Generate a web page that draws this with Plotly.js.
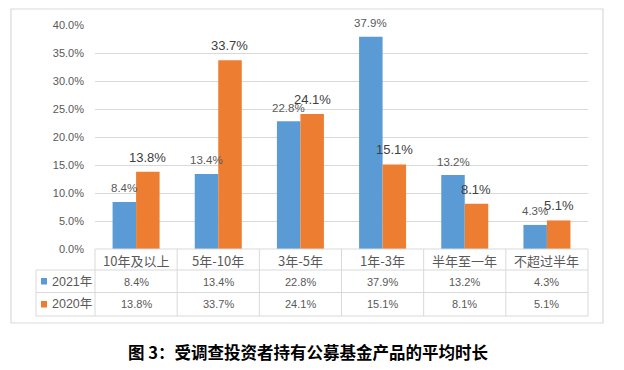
<!DOCTYPE html>
<html>
<head>
<meta charset="utf-8">
<script src="https://cdn.plot.ly/plotly-3.0.1.min.js"></script>
<style>html,body{margin:0;padding:0;background:#fff;}#chart{width:624px;height:370px;}</style>
</head>
<body>
<div id="chart"></div>
<script>
const categories = ['10年及以上','5年-10年','3年-5年','1年-3年','半年至一年','不超过半年'];
const seriesNames = ['2021年','2020年'];
const values2021 = [8.4,13.4,22.8,37.9,13.2,4.3];
const values2020 = [13.8,33.7,24.1,15.1,8.1,5.1];
const yTickVals = [0,5,10,15,20,25,30,35,40];
const yTickText = ['0.0%','5.0%','10.0%','15.0%','20.0%','25.0%','30.0%','35.0%','40.0%'];
const chartTitle = '图 3：受调查投资者持有公募基金产品的平均时长';

const colors = ['#5b9bd5','#ed7d31'];
const W = 624, H = 370;
const L = 95, R = 588, T = 25, B = 249;
const pw = R - L, ph = B - T;
const px = x => (x - L) / pw;
const py = y => (B - y) / ph;
const latin = 'Liberation Sans, Noto Sans CJK SC, sans-serif';
const cjk = 'Noto Sans CJK SC, Liberation Sans, sans-serif';
const gray = '#595959';
const lineCol = '#d9d9d9';

const bargap = 0.428;
const halfBar = (pw / categories.length) * (1 - bargap) / 4;

const traces = [values2021, values2020].map((v, k) => ({
  type: 'bar', x: categories, y: v, name: seriesNames[k],
  marker: {color: colors[k], line: {width: 0}},
  hoverinfo: 'x+y'
}));

const annotations = [];
categories.forEach((c, i) => {
  annotations.push({x: c, y: values2021[i], xref: 'x', yref: 'y', text: values2021[i].toFixed(1) + '%',
    showarrow: false, xshift: -halfBar, yshift: 13.5, yanchor: 'middle', xanchor: 'center',
    font: {family: latin, size: 11.5, color: gray}});
  annotations.push({x: c, y: values2020[i], xref: 'x', yref: 'y', text: values2020[i].toFixed(1) + '%',
    showarrow: false, xshift: halfBar, yshift: 14.5, yanchor: 'middle', xanchor: 'center',
    font: {family: latin, size: 13, color: '#404040'}});
  // table cells
  annotations.push({x: c, y: py(260), xref: 'x', yref: 'paper', text: c, showarrow: false,
    yanchor: 'middle', font: {family: cjk, size: 13, color: gray}});
  annotations.push({x: c, y: py(281.5), xref: 'x', yref: 'paper', text: values2021[i].toFixed(1) + '%', showarrow: false,
    yanchor: 'middle', font: {family: latin, size: 11, color: gray}});
  annotations.push({x: c, y: py(304), xref: 'x', yref: 'paper', text: values2020[i].toFixed(1) + '%', showarrow: false,
    yanchor: 'middle', font: {family: latin, size: 11, color: gray}});
});
// legend text in table
seriesNames.forEach((s, k) => {
  annotations.push({x: px(50), y: py(k === 0 ? 281.5 : 304), xref: 'paper', yref: 'paper', text: s,
    showarrow: false, xanchor: 'left', yanchor: 'middle', font: {family: latin, size: 12.5, color: gray}});
});

const shapes = [];
const lineStyle = {color: lineCol, width: 1};
// outer frame
shapes.push({type: 'rect', xref: 'paper', yref: 'paper', x0: px(11), x1: px(603), y0: py(323), y1: py(9), line: {color: lineCol, width: 1.2}});
// table horizontal lines
shapes.push({type: 'line', xref: 'paper', yref: 'paper', x0: 0, x1: 1, y0: 0, y1: 0, line: lineStyle});
[270, 292.5, 316].forEach(yy => shapes.push({type: 'line', xref: 'paper', yref: 'paper', x0: px(36), x1: 1, y0: py(yy), y1: py(yy), line: lineStyle}));
// table vertical lines
for (let k = 0; k <= categories.length; k++) {
  shapes.push({type: 'line', xref: 'paper', yref: 'paper', x0: k / categories.length, x1: k / categories.length, y0: 0, y1: py(316), line: lineStyle});
}
shapes.push({type: 'line', xref: 'paper', yref: 'paper', x0: px(36), x1: px(36), y0: py(270), y1: py(316), line: lineStyle});
// legend keys
[[278, 284.5], [301, 307.5]].forEach((r, k) => shapes.push({type: 'rect', xref: 'paper', yref: 'paper',
  x0: px(41), x1: px(47), y0: py(r[1]), y1: py(r[0]), fillcolor: colors[k], line: {width: 0}}));

const layout = {
  width: W, height: H,
  margin: {l: L, r: W - R, t: T, b: H - B, pad: 0},
  paper_bgcolor: '#fff', plot_bgcolor: '#fff',
  barmode: 'group', bargap: bargap, bargroupgap: 0,
  showlegend: false,
  title: {text: chartTitle, x: 308 / W, xanchor: 'center', y: 1 - 353 / H, yanchor: 'middle', xref: 'container',
    font: {family: cjk, size: 16.5, color: '#000', weight: 'bold'}},
  xaxis: {type: 'category', range: [-0.5, categories.length - 0.5], showticklabels: false, showgrid: false,
    zeroline: false, showline: false, ticks: '', fixedrange: true},
  yaxis: {range: [0, 40], tickmode: 'array', tickvals: yTickVals, ticktext: yTickText, showgrid: true, gridcolor: lineCol,
    gridwidth: 1, zeroline: false, showline: false, ticks: '', ticklabelstandoff: 10, fixedrange: true,
    tickfont: {family: latin, size: 11, color: gray}},
  annotations: annotations,
  shapes: shapes
};

Plotly.newPlot('chart', traces, layout, {displayModeBar: false, staticPlot: true});
</script>
</body>
</html>
